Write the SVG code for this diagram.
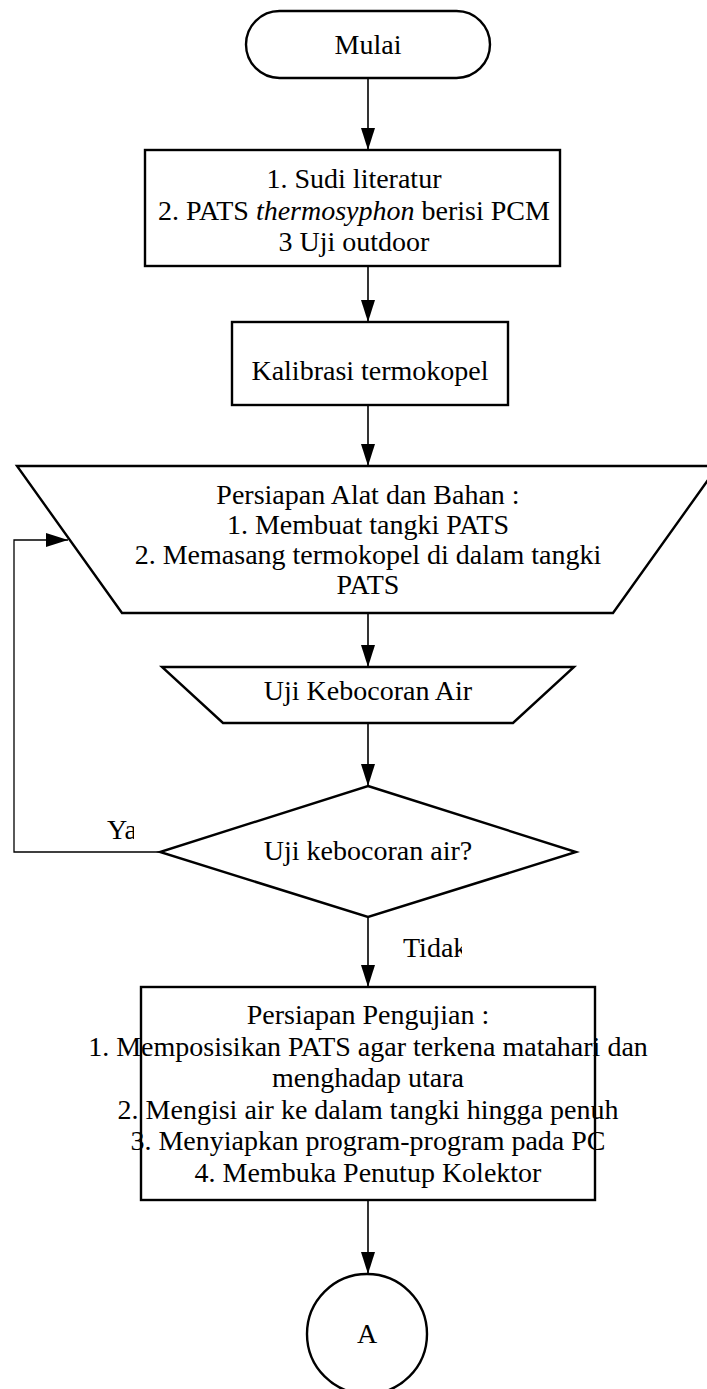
<svg xmlns="http://www.w3.org/2000/svg" width="707" height="1389" viewBox="0 0 707 1389">
<style>
.s{fill:#fff;stroke:#000;stroke-width:2.4}
.t{font-family:"Liberation Serif","Times New Roman",serif;font-size:28px;fill:#000;text-anchor:middle}
.c{fill:none;stroke:#000;stroke-width:1.6}
.l{fill:none;stroke:#000;stroke-width:1.3}
</style>
<defs>
<marker id="ah" markerUnits="userSpaceOnUse" markerWidth="22" markerHeight="14" refX="22" refY="7" orient="auto">
<path d="M0,0 L22,7 L0,14 z" fill="#000"/>
</marker>
<clipPath id="cy"><rect x="0" y="800" width="134" height="60"/></clipPath>
<clipPath id="ct"><rect x="380" y="920" width="82" height="60"/></clipPath>
</defs>
<rect width="707" height="1389" fill="#fff"/>
<g id="connectors">
<line class="c" x1="368" y1="78" x2="368" y2="150" marker-end="url(#ah)"/>
<line class="c" x1="368" y1="266" x2="368" y2="322" marker-end="url(#ah)"/>
<line class="c" x1="368" y1="405" x2="368" y2="466" marker-end="url(#ah)"/>
<line class="c" x1="368" y1="613" x2="368" y2="667" marker-end="url(#ah)"/>
<line class="c" x1="368" y1="723" x2="368" y2="786" marker-end="url(#ah)"/>
<line class="c" x1="368" y1="917" x2="368" y2="987" marker-end="url(#ah)"/>
<line class="c" x1="368" y1="1200" x2="368" y2="1274" marker-end="url(#ah)"/>
<polyline class="l" points="160,852 14,852 14,540 68,540" marker-end="url(#ah)"/>
<text class="t" x="107" y="839" style="text-anchor:start" clip-path="url(#cy)">Ya</text>
<text class="t" x="403" y="957" style="text-anchor:start" clip-path="url(#ct)">Tidak</text>
</g>
<g id="mulai">
<rect class="s" x="246" y="11" width="244" height="67" rx="33.5"/>
<text class="t" x="368" y="54">Mulai</text>
</g>
<g id="studi">
<rect class="s" x="145" y="150" width="415" height="116"/>
<text class="t" x="354" y="188">1. Sudi literatur</text>
<text class="t" x="354" y="219.5">2. PATS <tspan font-style="italic">thermosyphon</tspan> berisi PCM</text>
<text class="t" x="354" y="251">3 Uji outdoor</text>
</g>
<g id="kalibrasi">
<rect class="s" x="232" y="322" width="276" height="83"/>
<text class="t" x="370" y="380">Kalibrasi termokopel</text>
</g>
<g id="persiapan-alat">
<polygon class="s" points="17,466 718,466 613,613 122,613"/>
<text class="t" x="368" y="504">Persiapan Alat dan Bahan :</text>
<text class="t" x="368" y="534">1. Membuat tangki PATS</text>
<text class="t" x="368" y="564">2. Memasang termokopel di dalam tangki</text>
<text class="t" x="368" y="594">PATS</text>
</g>
<g id="uji-kebocoran">
<polygon class="s" points="162,667 574,667 513,723 223,723"/>
<text class="t" x="368" y="700">Uji Kebocoran Air</text>
</g>
<g id="keputusan">
<polygon class="s" points="368,786 576,852 368,917 160,852"/>
<text class="t" x="368" y="860">Uji kebocoran air?</text>
</g>
<g id="persiapan-pengujian">
<rect class="s" x="141" y="987" width="454" height="213"/>
<text class="t" x="368" y="1024">Persiapan Pengujian :</text>
<text class="t" x="368" y="1055.6">1. Memposisikan PATS agar terkena matahari dan</text>
<text class="t" x="368" y="1087.2">menghadap utara</text>
<text class="t" x="368" y="1118.8">2. Mengisi air ke dalam tangki hingga penuh</text>
<text class="t" x="368" y="1150.4">3. Menyiapkan program-program pada PC</text>
<text class="t" x="368" y="1182">4. Membuka Penutup Kolektor</text>
</g>
<g id="konektor-a">
<circle class="s" cx="367" cy="1334" r="60"/>
<text class="t" x="367" y="1343">A</text>
</g>
</svg>
